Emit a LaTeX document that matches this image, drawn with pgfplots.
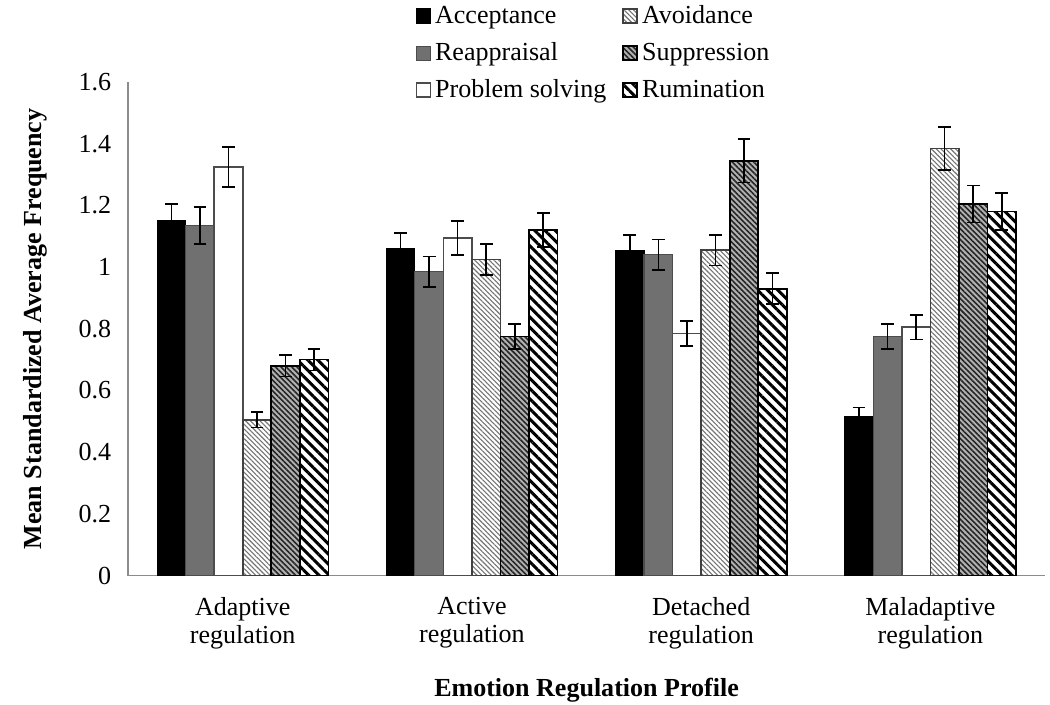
\documentclass[border=0pt]{standalone}
\usepackage{fontspec}
\setmainfont{Liberation Serif}
\usepackage{pgfplots}
\usepackage{pgfplotstable}
\pgfplotsset{compat=1.18}
\usetikzlibrary{patterns.meta}

% mean and error per profile
\pgfplotstableread{
x acc acce rea reae ps pse avo avoe sup supe rum rume
0 1.150 0.055 1.135 0.060 1.325 0.065 0.505 0.025 0.680 0.035 0.700 0.035
1 1.060 0.050 0.985 0.050 1.095 0.055 1.025 0.050 0.775 0.040 1.120 0.055
2 1.055 0.050 1.040 0.050 0.785 0.040 1.055 0.050 1.345 0.070 0.930 0.050
3 0.515 0.030 0.775 0.040 0.805 0.040 1.385 0.070 1.205 0.060 1.180 0.060
}\data

\definecolor{midgray}{HTML}{707070}
\definecolor{axisgray}{HTML}{8C8C8C}

\begin{document}
\begin{tikzpicture}[font=\fontsize{13}{14}\selectfont]
\path[use as bounding box] (-64pt,-64.5pt) rectangle (460.5pt,287.5pt);
\begin{axis}[
    scale only axis,
    width=458pt, height=246.5pt,
    ybar=0pt,
    bar width=0.1245,
    xmin=-0.5, xmax=3.5,
    ymin=0, ymax=1.6,
    ytick={0,0.2,...,1.6},
    yticklabels={0,0.2,0.4,0.6,0.8,1,1.2,1.4,1.6},
    xtick={0,1,2,3},
    xticklabels={{Adaptive\\regulation},{Active\\regulation},{Detached\\regulation},{Maladaptive\\regulation}},
    xticklabel style={align=center, yshift=-7.5pt},
    yticklabel style={xshift=-5pt},
    major tick length=0pt,
    axis x line*=bottom, axis y line*=left,
    axis line style={axisgray, line width=0.8pt, -},
    xlabel={\bfseries Emotion Regulation Profile},
    ylabel={\bfseries Mean Standardized Average Frequency},
    xlabel style={at={(axis description cs:0.5,-0.233)}, anchor=center},
    ylabel style={at={(axis description cs:-0.101,0.5)}, anchor=center},
    legend columns=3,
    transpose legend,
    legend cell align=left,
    legend style={draw=none, fill=none, at={(axis description cs:0.313,1.164)},
        anchor=north west, row sep=4pt, inner sep=0pt,
        /tikz/every even column/.append style={column sep=6pt}},
    legend image code/.code={\draw[#1, bar shift=0pt] (0pt,-3.5pt) rectangle (7pt,3.5pt);},
    error bars/y dir=both,
    error bars/y explicit,
    error bars/error mark options={rotate=90, mark size=3.2pt, black, line width=0.8pt},
    error bars/error bar style={black, line width=0.8pt},
]
\addplot[fill=black, draw=black, line width=0.6pt]
    table[x=x, y=acc, y error=acce] {\data};
\addplot[fill=midgray, draw=black!70, line width=0.6pt]
    table[x=x, y=rea, y error=reae] {\data};
\addplot[fill=white, draw=black!70, line width=0.8pt]
    table[x=x, y=ps, y error=pse] {\data};
\addplot[fill=white, draw=black!75, line width=0.8pt,
    postaction={pattern={Lines[angle=-45, distance=1.7pt, line width=0.55pt]}, pattern color=black!55}]
    table[x=x, y=avo, y error=avoe] {\data};
\addplot[fill=black!30, draw=black, line width=0.8pt,
    postaction={pattern={Lines[angle=-45, distance=1.9pt, line width=0.8pt]}, pattern color=black!85}]
    table[x=x, y=sup, y error=supe] {\data};
\addplot[fill=white, draw=black, line width=0.8pt,
    postaction={pattern={Lines[angle=-45, distance=3.6pt, line width=1.5pt]}, pattern color=black}]
    table[x=x, y=rum, y error=rume] {\data};
\legend{Acceptance, Reappraisal, Problem solving, Avoidance, Suppression, Rumination}
\end{axis}
\end{tikzpicture}
\end{document}
